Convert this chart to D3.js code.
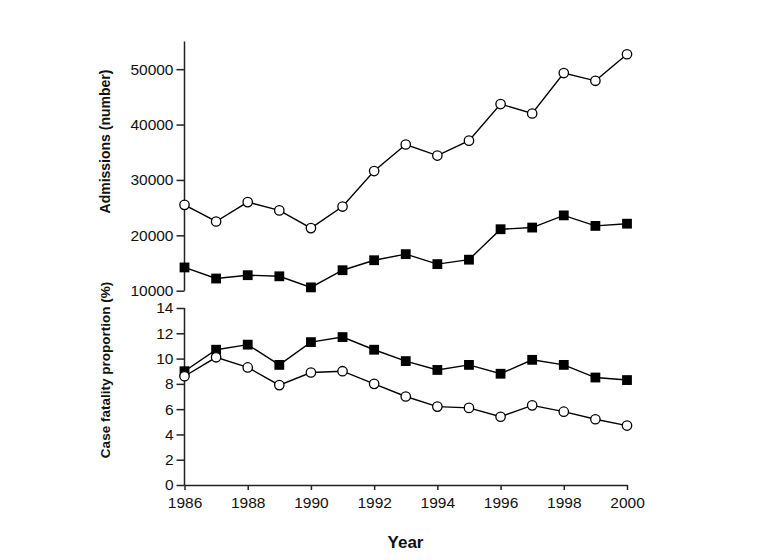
<!DOCTYPE html>
<html>
<head>
<meta charset="utf-8">
<script src="https://cdn.jsdelivr.net/npm/d3@7"></script>
<style>
  body { margin: 0; background: #fff; }
  svg { display: block; font-family: "Liberation Sans", Arial, sans-serif; }
  .axis path, .axis line { stroke: #222; stroke-width: 1.5; }
  .axis text { font-size: 15.5px; fill: #111; }
</style>
</head>
<body>
<script>
const years = [1986, 1987, 1988, 1989, 1990, 1991, 1992, 1993, 1994, 1995, 1996, 1997, 1998, 1999, 2000];
const admissionsOpen = [25500, 22500, 26000, 24500, 21300, 25200, 31600, 36400, 34400, 37100, 43700, 42000, 49300, 47900, 52700];
const admissionsFilled = [14200, 12200, 12800, 12600, 10600, 13700, 15500, 16600, 14800, 15600, 21100, 21400, 23600, 21700, 22100];
const fatalityOpen = [8.6, 10.1, 9.3, 7.9, 8.9, 9.0, 8.0, 7.0, 6.2, 6.1, 5.4, 6.3, 5.8, 5.2, 4.7];
const fatalityFilled = [9.0, 10.7, 11.1, 9.5, 11.3, 11.7, 10.7, 9.8, 9.1, 9.5, 8.8, 9.9, 9.5, 8.5, 8.3];
const admissionTicks = [10000, 20000, 30000, 40000, 50000];
const fatalityTicks = [0, 2, 4, 6, 8, 10, 12, 14];
const yearTicks = [1986, 1988, 1990, 1992, 1994, 1996, 1998, 2000];

const width = 782;
const height = 560;

const svg = d3.select("body")
  .append("svg")
  .attr("width", width)
  .attr("height", height);

const scaleX = d3.scaleLinear()
  .domain([1986, 2000])
  .range([184.5, 627]);

const scaleTop = d3.scaleLinear()
  .domain([10000, 55000])
  .range([290.7, 41.5]);

const scaleBottom = d3.scaleLinear()
  .domain([0, 14])
  .range([485, 308]);

// top panel axis
svg.append("g")
  .attr("class", "axis")
  .attr("transform", `translate(${scaleX(1986)}, 0)`)
  .call(d3.axisLeft(scaleTop).tickValues(admissionTicks).tickSize(8).tickSizeOuter(0).tickPadding(3).tickFormat(d3.format("d")))
  .call(g => g.select(".domain").attr("d", `M0,${scaleTop(55000)}V${scaleTop(10000)}`));

// bottom panel axes
svg.append("g")
  .attr("class", "axis")
  .attr("transform", `translate(${scaleX(1986)}, 0)`)
  .call(d3.axisLeft(scaleBottom).tickValues(fatalityTicks).tickSize(8).tickSizeOuter(0).tickPadding(3))
  .call(g => g.select(".domain").attr("d", `M0,${scaleBottom(14)}V${scaleBottom(0)}`));

svg.append("g")
  .attr("class", "axis")
  .attr("transform", `translate(0, ${scaleBottom(0)})`)
  .call(d3.axisBottom(scaleX).tickValues(yearTicks).tickSize(5).tickSizeOuter(0).tickPadding(7).tickFormat(d3.format("d")));

function drawSeries(values, scaleY, shape) {
  const pts = years.map((y, i) => [scaleX(y), scaleY(values[i])]);
  svg.append("path")
    .attr("d", d3.line()(pts))
    .attr("fill", "none")
    .attr("stroke", "#000")
    .attr("stroke-width", 1.4);
  if (shape === "circle") {
    svg.append("g")
      .selectAll("circle")
      .data(pts)
      .join("circle")
      .attr("cx", d => d[0])
      .attr("cy", d => d[1])
      .attr("r", 4.7)
      .attr("fill", "#fff")
      .attr("stroke", "#000")
      .attr("stroke-width", 1.3);
  } else {
    const s = 9.8;
    svg.append("g")
      .selectAll("rect")
      .data(pts)
      .join("rect")
      .attr("x", d => d[0] - s / 2)
      .attr("y", d => d[1] - s / 2)
      .attr("width", s)
      .attr("height", s)
      .attr("fill", "#000");
  }
}

drawSeries(admissionsOpen, scaleTop, "circle");
drawSeries(admissionsFilled, scaleTop, "square");
drawSeries(fatalityFilled, scaleBottom, "square");
drawSeries(fatalityOpen, scaleBottom, "circle");

svg.append("text")
  .attr("transform", "translate(109.5, 141.5) rotate(-90)")
  .attr("text-anchor", "middle")
  .attr("font-size", 14)
  .attr("font-weight", "bold")
  .attr("fill", "#111")
  .text("Admissions (number)");

svg.append("text")
  .attr("transform", "translate(109.5, 370) rotate(-90)")
  .attr("text-anchor", "middle")
  .attr("font-size", 13.5)
  .attr("font-weight", "bold")
  .attr("fill", "#111")
  .text("Case fatality proportion (%)");

svg.append("text")
  .attr("x", 405.5)
  .attr("y", 548)
  .attr("text-anchor", "middle")
  .attr("font-size", 17)
  .attr("font-weight", "bold")
  .attr("fill", "#111")
  .text("Year");
</script>
</body>
</html>
